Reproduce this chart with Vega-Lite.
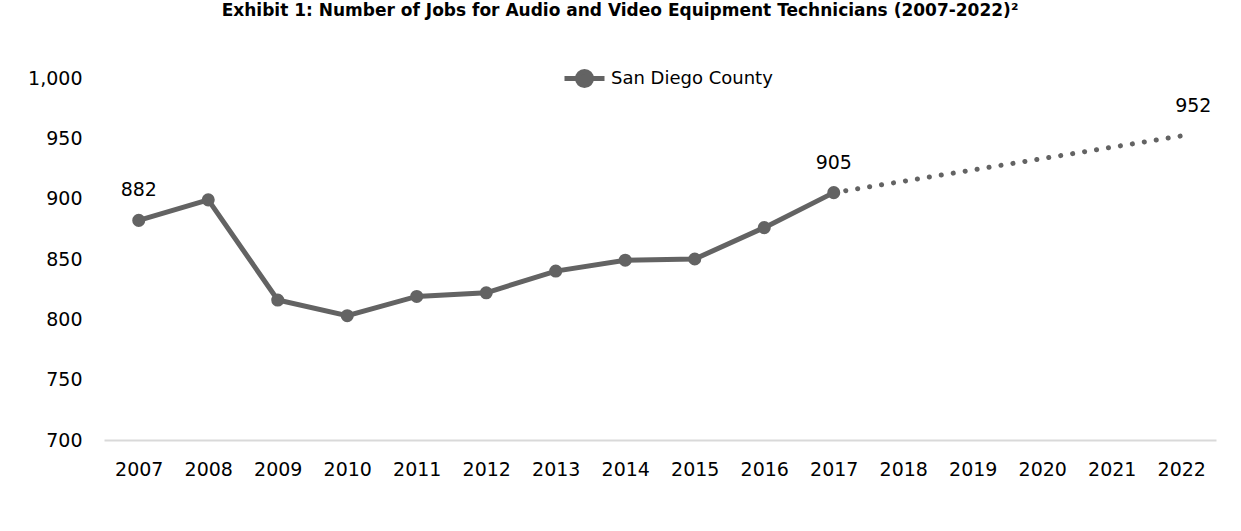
{
  "$schema": "https://vega.github.io/schema/vega-lite/v6.json",
  "width": 1112,
  "height": 362,
  "autosize": {"type": "none"},
  "padding": {"left": 104, "top": 78, "right": 25, "bottom": 91},
  "background": "white",
  "config": {
    "font": "DejaVu Sans",
    "view": {"stroke": null}
  },
  "title": {
    "text": "Exhibit 1: Number of Jobs for Audio and Video Equipment Technicians (2007-2022)²",
    "fontSize": 17,
    "fontWeight": "bold",
    "font": "DejaVu Sans",
    "color": "#000000",
    "anchor": "middle",
    "dx": -40,
    "offset": 36
  },
  "data": {
    "values": [
      {"year": "2007", "jobs": 882, "type": "actual", "series": "San Diego County", "label": "882"},
      {"year": "2008", "jobs": 899, "type": "actual", "series": "San Diego County", "label": ""},
      {"year": "2009", "jobs": 816, "type": "actual", "series": "San Diego County", "label": ""},
      {"year": "2010", "jobs": 803, "type": "actual", "series": "San Diego County", "label": ""},
      {"year": "2011", "jobs": 819, "type": "actual", "series": "San Diego County", "label": ""},
      {"year": "2012", "jobs": 822, "type": "actual", "series": "San Diego County", "label": ""},
      {"year": "2013", "jobs": 840, "type": "actual", "series": "San Diego County", "label": ""},
      {"year": "2014", "jobs": 849, "type": "actual", "series": "San Diego County", "label": ""},
      {"year": "2015", "jobs": 850, "type": "actual", "series": "San Diego County", "label": ""},
      {"year": "2016", "jobs": 876, "type": "actual", "series": "San Diego County", "label": ""},
      {"year": "2017", "jobs": 905, "type": "actual", "series": "San Diego County", "label": "905"},
      {"year": "2017", "jobs": 905, "type": "projected", "series": "Projected", "label": ""},
      {"year": "2022", "jobs": 952, "type": "projected", "series": "Projected", "label": "952"}
    ]
  },
  "encoding": {
    "x": {
      "field": "year",
      "type": "ordinal",
      "scale": {
        "type": "point",
        "padding": 0.5,
        "domain": ["2007", "2008", "2009", "2010", "2011", "2012", "2013", "2014", "2015", "2016", "2017", "2018", "2019", "2020", "2021", "2022"]
      },
      "axis": {
        "title": null,
        "labelAngle": 0,
        "labelFontSize": 19,
        "labelColor": "#000000",
        "labelPadding": 20,
        "ticks": false,
        "domainColor": "#d9d9d9",
        "domainWidth": 2,
        "grid": false
      }
    },
    "y": {
      "field": "jobs",
      "type": "quantitative",
      "scale": {"domain": [700, 1000], "nice": false, "zero": false},
      "axis": {
        "title": null,
        "values": [700, 750, 800, 850, 900, 950, 1000],
        "format": ",.0f",
        "labelFontSize": 19,
        "labelColor": "#000000",
        "labelPadding": 22,
        "ticks": false,
        "domain": false,
        "grid": false
      }
    }
  },
  "layer": [
    {
      "transform": [{"filter": "datum.type === 'projected'"}],
      "mark": {"type": "line", "color": "#636363", "strokeWidth": 5, "strokeDash": [0.1, 12], "strokeCap": "round"},
      "encoding": {}
    },
    {
      "transform": [{"filter": "datum.type === 'actual'"}],
      "mark": {"type": "line", "strokeWidth": 5},
      "encoding": {
        "color": {
          "field": "series",
          "type": "nominal",
          "scale": {"domain": ["San Diego County"], "range": ["#636363"]},
          "legend": {
            "title": null,
            "orient": "none",
            "legendX": 458,
            "legendY": -22,
            "labelFontSize": 18,
            "labelLimit": 400,
            "labelColor": "#000000",
            "symbolType": "M-1,0H1M-0.35,0A0.35,0.35 0 1 1 0.35,0A0.35,0.35 0 1 1 -0.35,0Z",
            "symbolSize": 1600,
            "symbolStrokeWidth": 5,
            "symbolFillColor": "#636363",
            "symbolStrokeColor": "#636363",
            "labelOffset": 4
          }
        }
      }
    },
    {
      "transform": [{"filter": "datum.type === 'actual'"}],
      "mark": {"type": "point", "filled": true, "size": 170, "color": "#636363", "opacity": 1},
      "encoding": {}
    },
    {
      "transform": [{"filter": "datum.label !== '' && datum.year !== '2022'"}],
      "mark": {"type": "text", "fontSize": 19, "color": "#000000", "dy": -30, "align": "center"},
      "encoding": {"text": {"field": "label"}}
    },
    {
      "transform": [{"filter": "datum.year === '2022'"}],
      "mark": {"type": "text", "fontSize": 19, "color": "#000000", "dy": -30, "dx": 12, "align": "center"},
      "encoding": {"text": {"field": "label"}}
    }
  ]
}
